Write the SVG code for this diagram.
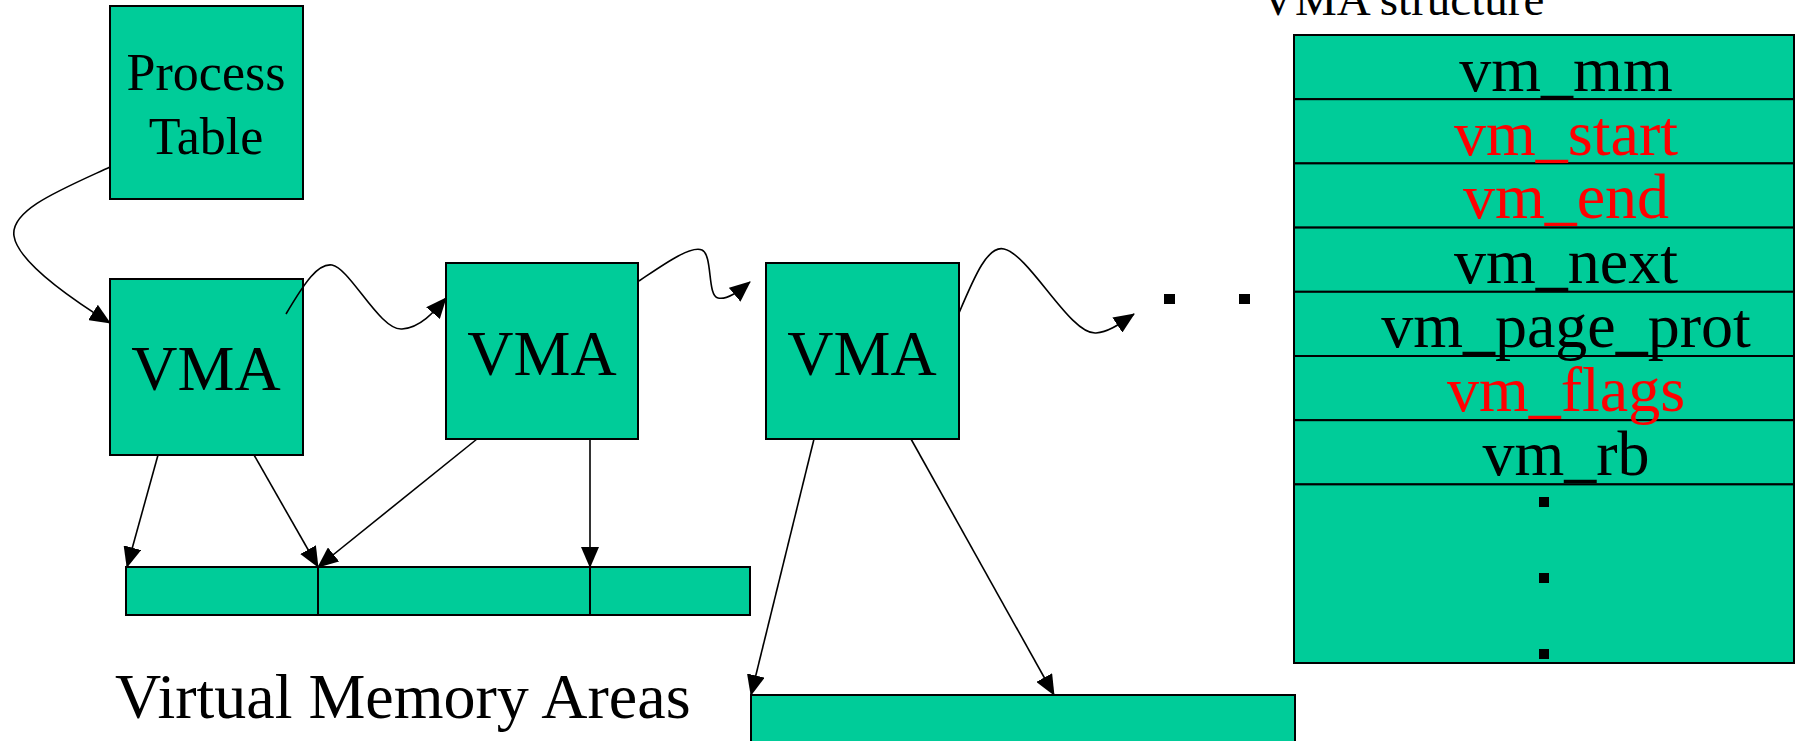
<svg xmlns="http://www.w3.org/2000/svg" width="1795" height="741" viewBox="0 0 1795 741">
<style>
.box{fill:#00CC99;stroke:#000;stroke-width:2}
.t{font-family:"Liberation Serif","Times New Roman",serif;fill:#000}
.red{fill:#FF0000}
.c{fill:none;stroke:#000;stroke-width:1.6}
</style>
<defs>
<marker id="ah" markerUnits="userSpaceOnUse" markerWidth="21" markerHeight="18" refX="20" refY="9" orient="auto">
<path d="M0,0 L21,9 L0,18 z" fill="#000"/>
</marker>
</defs>
<rect width="1795" height="741" fill="#fff"/>
<g id="process-table">
<rect class="box" x="110" y="6" width="193" height="193"/>
<text class="t" x="206" y="90" font-size="52" text-anchor="middle">Process</text>
<text class="t" x="206" y="154" font-size="52" text-anchor="middle">Table</text>
</g>
<g id="vma1">
<rect class="box" x="110" y="279" width="193" height="176"/>
<text class="t" x="206" y="390" font-size="64" text-anchor="middle">VMA</text>
</g>
<g id="vma2">
<rect class="box" x="446" y="263" width="192" height="176"/>
<text class="t" x="542" y="375" font-size="64" text-anchor="middle">VMA</text>
</g>
<g id="vma3">
<rect class="box" x="766" y="263" width="193" height="176"/>
<text class="t" x="862" y="375" font-size="64" text-anchor="middle">VMA</text>
</g>
<g id="ellipsis">
<rect x="1164" y="294" width="11" height="10" fill="#000"/>
<rect x="1239" y="294" width="11" height="10" fill="#000"/>
</g>
<g id="memory-bar-1">
<rect class="box" x="126" y="567" width="192" height="48"/>
<rect class="box" x="318" y="567" width="272" height="48"/>
<rect class="box" x="590" y="567" width="160" height="48"/>
</g>
<g id="memory-bar-2">
<rect class="box" x="751" y="695" width="544" height="60"/>
</g>
<g id="label">
<text class="t" x="115" y="718" font-size="64">Virtual Memory Areas</text>
</g>
<g id="vma-structure">
<text class="t" x="1261" y="15" font-size="47">VMA structure</text>
<rect class="box" x="1294" y="35" width="500" height="64.2"/>
<rect class="box" x="1294" y="99.2" width="500" height="64.2"/>
<rect class="box" x="1294" y="163.4" width="500" height="64.2"/>
<rect class="box" x="1294" y="227.6" width="500" height="64.2"/>
<rect class="box" x="1294" y="291.8" width="500" height="64.2"/>
<rect class="box" x="1294" y="356" width="500" height="64.2"/>
<rect class="box" x="1294" y="420.2" width="500" height="64.2"/>
<rect class="box" x="1294" y="484.4" width="500" height="178.6"/>
<text class="t" x="1566" y="91" font-size="64" text-anchor="middle">vm_mm</text>
<text class="t red" x="1566" y="155" font-size="64" text-anchor="middle">vm_start</text>
<text class="t red" x="1566" y="218" font-size="64" text-anchor="middle">vm_end</text>
<text class="t" x="1566" y="283" font-size="64" text-anchor="middle">vm_next</text>
<text class="t" x="1566" y="347" font-size="64" text-anchor="middle">vm_page_prot</text>
<text class="t red" x="1566" y="411" font-size="64" text-anchor="middle">vm_flags</text>
<text class="t" x="1566" y="475" font-size="64" text-anchor="middle">vm_rb</text>
<rect x="1539" y="497" width="10" height="10" fill="#000"/>
<rect x="1539" y="573" width="10" height="10" fill="#000"/>
<rect x="1539" y="649" width="10" height="10" fill="#000"/>
</g>
<g id="connectors">
<path class="c" marker-end="url(#ah)" d="M110,167 C60,190 10,210 14,236 C18,262 70,298 110,323"/>
<path class="c" marker-end="url(#ah)" d="M286,314 C305,282 318,263 332,265 C350,268 380,331 402,329 C420,328 434,312 446,298"/>
<path class="c" marker-end="url(#ah)" d="M639,281 C660,267 690,245 702,250 C713,255 707,296 718,298 C727,300 738,292 750,282"/>
<path class="c" marker-end="url(#ah)" d="M959,313 C975,275 988,245 1004,249 C1030,255 1070,335 1096,333 C1110,332 1122,322 1134,314"/>
<path class="c" marker-end="url(#ah)" d="M158,455 L127,567"/>
<path class="c" marker-end="url(#ah)" d="M254,455 L318,567"/>
<path class="c" marker-end="url(#ah)" d="M477,439 L318,567"/>
<path class="c" marker-end="url(#ah)" d="M590,439 L590,567"/>
<path class="c" marker-end="url(#ah)" d="M814,439 L751,695"/>
<path class="c" marker-end="url(#ah)" d="M911,439 L1054,695"/>
</g>
</svg>
